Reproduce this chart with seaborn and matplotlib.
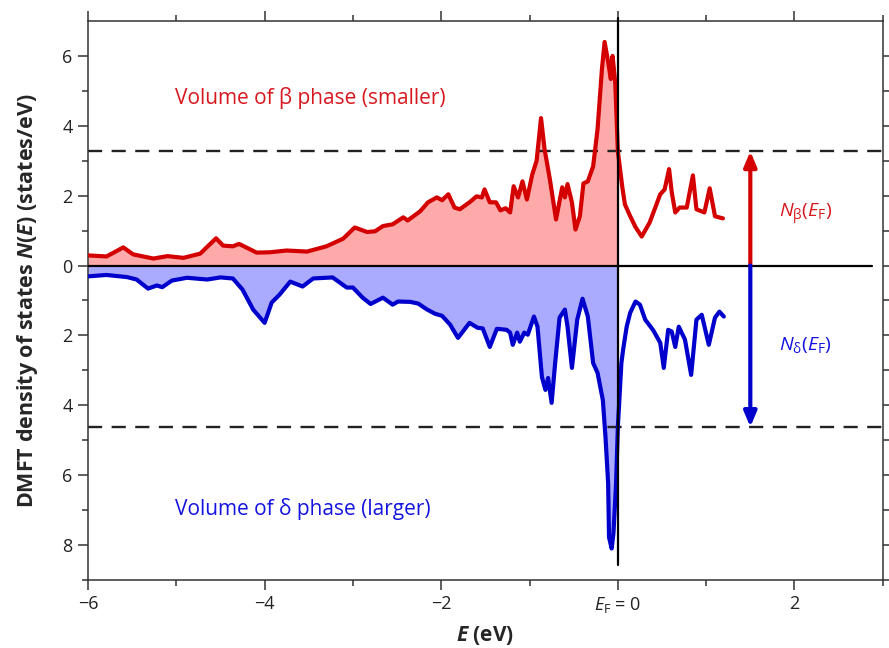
import matplotlib
matplotlib.use("Agg")
import matplotlib.pyplot as plt
import seaborn as sns
import pandas as pd
import numpy as np

# ---- data ----
beta_E = [-6.0, -5.79, -5.6, -5.49, -5.26, -5.1, -4.92, -4.73, -4.55, -4.47, -4.36, -4.29,
          -4.09, -3.94, -3.75, -3.52, -3.3, -3.11, -2.98, -2.84, -2.75, -2.66, -2.55, -2.43,
          -2.38, -2.24, -2.15, -2.05, -1.99, -1.92, -1.85, -1.79, -1.68, -1.60, -1.54, -1.51,
          -1.45, -1.38, -1.33, -1.27, -1.22, -1.18, -1.13, -1.08, -1.03, -0.97, -0.92, -0.87,
          -0.83, -0.77, -0.70, -0.63, -0.60, -0.57, -0.52, -0.48, -0.43, -0.39, -0.34, -0.28,
          -0.23, -0.18, -0.15, -0.11, -0.08, -0.06, -0.03, 0.0, 0.05, 0.08, 0.14, 0.20, 0.27,
          0.36, 0.48, 0.53, 0.58, 0.61, 0.65, 0.70, 0.78, 0.85, 0.89, 0.98, 1.04, 1.10, 1.19]
beta_N = [0.29, 0.26, 0.52, 0.32, 0.20, 0.27, 0.22, 0.34, 0.78, 0.57, 0.55, 0.62,
          0.37, 0.38, 0.43, 0.40, 0.55, 0.77, 1.09, 0.96, 0.98, 1.13, 1.18, 1.38,
          1.29, 1.55, 1.81, 1.95, 1.87, 2.04, 1.66, 1.61, 1.81, 1.98, 1.95, 2.18,
          1.81, 1.81, 1.58, 1.64, 1.52, 2.27, 1.95, 2.41, 1.89, 2.60, 3.00, 4.22,
          3.33, 2.47, 1.32, 2.24, 1.95, 2.33, 1.81, 1.03, 1.41, 2.35, 2.41, 2.84,
          3.90, 5.63, 6.40, 5.83, 5.34, 6.00, 5.25, 3.27, 2.25, 1.75, 1.41, 1.10, 0.83,
          1.23, 2.04, 2.18, 2.76, 2.10, 1.52, 1.66, 1.66, 2.58, 1.61, 1.52, 2.21, 1.41, 1.35]

delta_E = [-6.0, -5.79, -5.56, -5.45, -5.32, -5.22, -5.16, -5.05, -4.88, -4.65, -4.50, -4.36,
           -4.25, -4.13, -4.00, -3.92, -3.83, -3.71, -3.57, -3.45, -3.23, -3.07, -3.00, -2.89,
           -2.80, -2.66, -2.55, -2.49, -2.35, -2.26, -2.16, -2.07, -1.99, -1.90, -1.81, -1.68,
           -1.59, -1.53, -1.45, -1.37, -1.26, -1.22, -1.19, -1.14, -1.11, -1.06, -1.02, -0.95,
           -0.91, -0.86, -0.82, -0.79, -0.75, -0.71, -0.66, -0.60, -0.57, -0.52, -0.46, -0.40,
           -0.34, -0.28, -0.23, -0.17, -0.14, -0.11, -0.10, -0.07, -0.05, -0.02, 0.0, 0.04,
           0.06, 0.10, 0.14, 0.20, 0.25, 0.31, 0.40, 0.48, 0.52, 0.57, 0.61, 0.65, 0.69,
           0.76, 0.83, 0.89, 0.95, 1.03, 1.10, 1.15, 1.20]
delta_N = [0.31, 0.27, 0.33, 0.40, 0.66, 0.57, 0.62, 0.43, 0.35, 0.40, 0.34, 0.37,
           0.69, 1.26, 1.64, 1.06, 0.83, 0.46, 0.60, 0.37, 0.34, 0.63, 0.63, 0.92,
           1.10, 0.92, 1.12, 1.03, 1.04, 1.09, 1.26, 1.38, 1.44, 1.69, 2.07, 1.64,
           1.78, 1.80, 2.33, 1.81, 1.84, 1.92, 2.27, 1.92, 2.18, 1.92, 1.98, 1.46,
           1.75, 3.19, 3.56, 3.22, 3.93, 2.79, 1.49, 1.26, 1.75, 2.93, 1.55, 0.95,
           1.46, 2.79, 3.07, 3.85, 4.91, 6.23, 7.78, 8.10, 7.67, 6.23, 4.62, 2.79,
           2.40, 1.75, 1.35, 1.03, 1.12, 1.55, 1.85, 2.21, 2.93, 1.84, 1.89, 2.33, 1.75,
           2.12, 3.13, 1.55, 1.41, 2.27, 1.49, 1.32, 1.46]

NF_beta = 3.27
NF_delta = 4.62
ytick_vals = [6, 4, 2, 0, -2, -4, -6, -8]
ytick_labels = ["6", "4", "2", "0", "2", "4", "6", "8"]
xtick_vals = [-6, -4, -2, 0, 2]
xtick_labels = ["\u22126", "\u22124", "\u22122", r"$E_{\mathrm{F}}$ = 0", "2"]

RED = "#d40000"
RED_FILL = "#ffaaaa"
BLUE = "#0000cc"
BLUE_FILL = "#aaaaff"
RED_TXT = "#d7191f"
BLUE_TXT = "#1414e0"

sns.set_style("ticks")
plt.rcParams["font.family"] = ["Open Sans", "DejaVu Sans"]
plt.rcParams["mathtext.fontset"] = "custom"
plt.rcParams["mathtext.rm"] = "Open Sans"
plt.rcParams["mathtext.it"] = "Open Sans:italic"
plt.rcParams["mathtext.bf"] = "Open Sans:bold"
plt.rcParams["mathtext.bfit"] = "Open Sans:italic:bold"

df_b = pd.DataFrame({"E": beta_E, "N": beta_N})
df_d = pd.DataFrame({"E": delta_E, "N": [-v for v in delta_N]})

fig = plt.figure(figsize=(8.89, 6.48), dpi=100)
ax = fig.add_axes([0.099, 0.105, 0.894, 0.8626])

# fills (only below the Fermi level)
bE = np.array(df_b["E"]); bN = np.array(df_b["N"])
dE = np.array(df_d["E"]); dN = np.array(df_d["N"])
mb = bE <= 0
md = dE <= 0
ax.fill_between(bE[mb], 0, bN[mb], color=RED_FILL, lw=0, zorder=1)
ax.fill_between(dE[md], 0, dN[md], color=BLUE_FILL, lw=0, zorder=1)

sns.lineplot(data=df_b, x="E", y="N", ax=ax, color=RED, lw=3, sort=False,
             solid_joinstyle="round", solid_capstyle="round", zorder=3)
sns.lineplot(data=df_d, x="E", y="N", ax=ax, color=BLUE, lw=3, sort=False,
             solid_joinstyle="round", solid_capstyle="round", zorder=3)

# reference lines
ax.plot([-6, 2.88], [0, 0], color="black", lw=1.6, zorder=4)
ax.plot([0, 0], [-8.58, 7.1], color="black", lw=1.6, zorder=4, clip_on=False)
ax.axhline(NF_beta, color="#222222", lw=1.7, ls=(0, (6, 4)), zorder=2)
ax.axhline(-NF_delta, color="#222222", lw=1.7, ls=(0, (6, 4)), zorder=2)

# arrows
ax.annotate("", xy=(1.5, NF_beta), xytext=(1.5, 0),
            arrowprops=dict(arrowstyle="-|>,head_length=0.9,head_width=0.38",
                            color=RED, lw=3, shrinkA=0, shrinkB=0), zorder=5)
ax.annotate("", xy=(1.5, -NF_delta), xytext=(1.5, 0),
            arrowprops=dict(arrowstyle="-|>,head_length=0.9,head_width=0.38",
                            color=BLUE, lw=3, shrinkA=0, shrinkB=0), zorder=5)

# labels
ax.text(-5.02, 4.8, "Volume of \u03b2 phase (smaller)", color=RED_TXT, fontsize=15,
        va="center", ha="left")
ax.text(-5.02, -6.98, "Volume of \u03b4 phase (larger)", color=BLUE_TXT, fontsize=15,
        va="center", ha="left")
ax.text(1.83, 1.45, r"$N_{\mathrm{\beta}}(E_{\mathrm{F}})$", color=RED_TXT, fontsize=14,
        va="center", ha="left")
ax.text(1.83, -2.28, r"$N_{\mathrm{\delta}}(E_{\mathrm{F}})$", color=BLUE_TXT, fontsize=14,
        va="center", ha="left")

ax.set_xlim(-6, 3)
ax.set_ylim(-9, 7)
ax.set_xticks(xtick_vals)
ax.set_xticklabels(xtick_labels)
ax.set_xticks([-5, -3, -1, 1, 3], minor=True)
ax.set_yticks(ytick_vals)
ax.set_yticklabels(ytick_labels)
ax.set_yticks([5, 3, 1, -1, -3, -5, -7, -9], minor=True)

for s in ax.spines.values():
    s.set_visible(True)
    s.set_color("#333333")
    s.set_linewidth(1.1)
ax.tick_params(which="both", direction="out", top=True, right=True, color="#333333",
               width=1.1, labelsize=13, labelcolor="#222222")
ax.tick_params(which="major", length=7, pad=4)
ax.tick_params(which="minor", length=4)

ax.set_xlabel(r"$\mathbfit{E}$ (eV)", fontsize=15, fontweight="bold", labelpad=6)
ax.set_ylabel(r"DMFT density of states $\mathbfit{N}\mathbf{(}\mathbfit{E}\mathbf{)}$ (states/eV)",
              fontsize=15.5, fontweight="bold", labelpad=16)

fig.savefig("out.png", dpi=100)
